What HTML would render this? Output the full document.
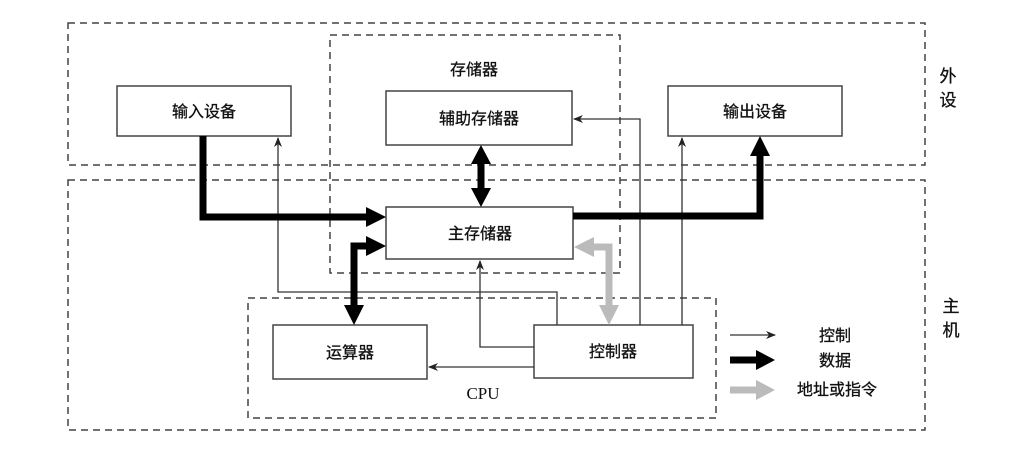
<!DOCTYPE html>
<html><head><meta charset="utf-8"><style>
html,body{margin:0;padding:0;background:#fff;}
svg text{font-family:"Liberation Sans","Noto Sans CJK SC",sans-serif;fill:#111;stroke:#111;stroke-width:0.3;}
</style></head><body>
<svg width="1031" height="465" viewBox="0 0 1031 465" xmlns="http://www.w3.org/2000/svg">
<defs>
<marker id="t" markerWidth="10" markerHeight="8" refX="9" refY="4" orient="auto" markerUnits="userSpaceOnUse"><path d="M0,0 L10,4 L0,8 L3,4 Z" fill="#222"/></marker>
</defs>
<g fill="none" stroke="#444" stroke-width="1.5" stroke-dasharray="7,5">
<rect x="68" y="23" width="857" height="142"/>
<rect x="68" y="180" width="857" height="250"/>
<rect x="330" y="35" width="290" height="238"/>
<rect x="248" y="298" width="468" height="120"/>
</g>
<g fill="#fff" stroke="#444" stroke-width="1.5">
<rect x="117" y="86" width="174" height="50"/>
<rect x="386" y="91" width="186" height="54"/>
<rect x="386" y="207" width="187" height="52"/>
<rect x="273" y="325" width="154" height="54"/>
<rect x="534" y="325" width="159" height="53"/>
<rect x="668" y="86" width="174" height="50"/>
</g>
<g font-size="16" text-anchor="middle">
<text x="204" y="117">输入设备</text>
<text x="474" y="75">存储器</text>
<text x="479" y="124">辅助存储器</text>
<text x="480" y="239">主存储器</text>
<text x="350" y="358">运算器</text>
<text x="613" y="357">控制器</text>
<text x="755" y="117">输出设备</text>
<text x="483" y="399" style="font-family:'Liberation Serif',serif;font-size:17px;stroke-width:0">CPU</text>
<text x="948" y="82" font-size="17">外</text>
<text x="948" y="106" font-size="17">设</text>
<text x="951" y="312" font-size="17">主</text>
<text x="951" y="336" font-size="17">机</text>
<text x="835" y="341">控制</text>
<text x="835" y="366">数据</text>
<text x="837" y="395">地址或指令</text>
</g>
<g fill="none" stroke="#333" stroke-width="1.3">
<path d="M640,325 V119 H574" marker-end="url(#t)"/>
<path d="M682,325 V138" marker-end="url(#t)"/>
<path d="M534,347 H480 V261" marker-end="url(#t)"/>
<path d="M534,367 H429" marker-end="url(#t)"/>
<path d="M557,325 V292 H278 V138" marker-end="url(#t)"/>
<path d="M730,335 H775" marker-end="url(#t)"/>
</g>
<g fill="none" stroke="#000" stroke-width="7">
<path d="M203,136 V217 H368"/>
<path d="M370,246 H354 V308"/>
<path d="M481,163 V190"/>
<path d="M573,216 H760 V155"/>
<path d="M730,360 H758"/>
</g>
<g fill="#000">
<polygon points="386,217 366,207 366,227"/>
<polygon points="386,246 366,236 366,256"/>
<polygon points="354,325 344,305 364,305"/>
<polygon points="481,145 471,164 491,164"/>
<polygon points="481,207 471,188 491,188"/>
<polygon points="760,136 750,156 770,156"/>
<polygon points="775,360 756,350 756,370"/>
</g>
<g fill="none" stroke="#bbb" stroke-width="7">
<path d="M592,247 H609 V308"/>
<path d="M730,390 H758"/>
</g>
<g fill="#bbb">
<polygon points="574,247 594,237 594,257"/>
<polygon points="609,325 599,305 619,305"/>
<polygon points="775,390 756,380 756,400"/>
</g>
</svg>
</body></html>
